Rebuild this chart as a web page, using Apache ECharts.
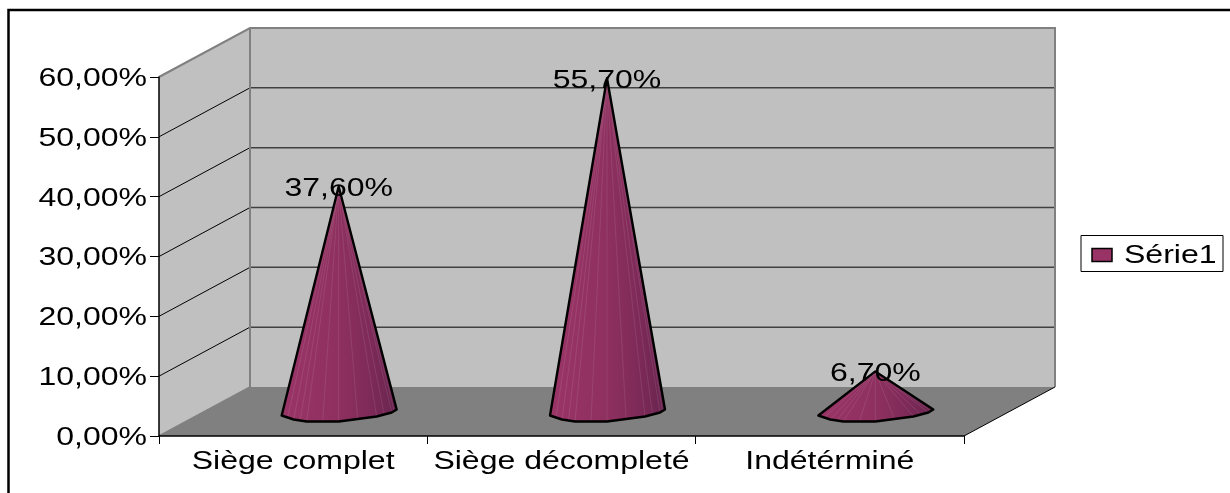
<!DOCTYPE html>
<html>
<head>
<meta charset="utf-8">
<style>
html, body { margin: 0; padding: 0; background: #fff; }
#chart { width: 1230px; height: 493px; }
</style>
<script src="https://cdn.jsdelivr.net/npm/echarts@6/dist/echarts.min.js"></script>
</head>
<body>
<div id="chart"></div>
<script>
// data
var categories = ['Siège complet', 'Siège décompleté', 'Indétérminé'];
var serie1 = [0.376, 0.557, 0.067];
var valueLabels = ['37,60%', '55,70%', '6,70%'];
var yTicks = [0, 0.1, 0.2, 0.3, 0.4, 0.5, 0.6];
var yTickLabels = ['0,00%', '10,00%', '20,00%', '30,00%', '40,00%', '50,00%', '60,00%'];
var seriesName = 'Série1';

// the fake 3d box: how far the back wall is pushed from the front axes
var depthX = 91;
var depthY = -49;
// outline of the cone foot, relative to the foot centre
var rim = [[-57, 4], [-45, 8], [-32, 10], [0, 10], [38, 5], [53, 1], [58, -2]];

var textFont = '25px "Liberation Sans"';
var stretch = 1.28; // text in the original is stretched sideways

function stretchedText(x, y, text, align) {
  return {
    type: 'text',
    x: x,
    y: y,
    scaleX: stretch,
    z2: 50,
    style: {
      text: text,
      font: textFont,
      fill: '#000',
      textAlign: align,
      textVerticalAlign: 'middle'
    }
  };
}

function renderWalls(params, api) {
  var cs = params.coordSys;
  var l = cs.x, r = cs.x + cs.width, t = cs.y, b = cs.y + cs.height;
  var grey = '#808080';
  var kids = [
    { type: 'polygon', shape: { points: [[l, t], [l + depthX, t + depthY], [l + depthX, b + depthY], [l, b]] }, style: { fill: '#c0c0c0' } },
    { type: 'rect', shape: { x: l + depthX, y: t + depthY, width: r - l, height: b - t }, style: { fill: '#c0c0c0' } },
    { type: 'polygon', shape: { points: [[l, b], [l + depthX, b + depthY], [r + depthX, b + depthY], [r, b]] }, style: { fill: '#808080' } }
  ];
  yTicks.forEach(function (v, i) {
    if (i === 0 || i === yTicks.length - 1) return;
    var y = api.coord([0, v])[1];
    kids.push({ type: 'line', shape: { x1: l, y1: y, x2: l + depthX, y2: y + depthY }, style: { stroke: '#000', lineWidth: 1 } });
    kids.push({ type: 'line', shape: { x1: l + depthX, y1: y + depthY, x2: r + depthX, y2: y + depthY }, style: { stroke: '#404040', lineWidth: 1.5 } });
  });
  kids.push({ type: 'polyline', shape: { points: [[l, t], [l + depthX, t + depthY], [r + depthX, t + depthY], [r + depthX, b + depthY]] }, style: { stroke: grey, lineWidth: 2, fill: null } });
  kids.push({ type: 'line', shape: { x1: l + depthX, y1: t + depthY, x2: l + depthX, y2: b + depthY }, style: { stroke: grey, lineWidth: 2 } });
  kids.push({ type: 'line', shape: { x1: l, y1: b, x2: l + depthX, y2: b + depthY }, style: { stroke: grey, lineWidth: 1.5 } });
  kids.push({ type: 'line', shape: { x1: r, y1: b, x2: r + depthX, y2: b + depthY }, style: { stroke: '#000', lineWidth: 1 } });
  return { type: 'group', children: kids };
}

function renderCone(params, api) {
  var idx = api.value(0);
  var val = api.value(1);
  var top = api.coord([idx, val]);
  var foot = api.coord([idx, 0]);
  var ax = top[0] + depthX / 2, ay = top[1] + depthY / 2;
  var cx = foot[0] + depthX / 2, cy = foot[1] + depthY / 2;
  var pts = rim.map(function (p) { return [cx + p[0], cy + p[1]]; });
  var kids = [];
  var i, n;
  // body, shaded darker to the right
  kids.push({
    type: 'polygon',
    shape: { points: [[ax, ay]].concat(pts) },
    style: {
      fill: new echarts.graphic.LinearGradient(0, 0, 1, 0, [
        { offset: 0, color: '#9a3567' },
        { offset: 0.5, color: '#8e305f' },
        { offset: 0.78, color: '#7d2a58' },
        { offset: 1, color: '#69244f' }
      ])
    }
  });
  // thin light seams between the flat shaded strips
  for (i = 0; i < pts.length - 1; i++) {
    for (n = 0; n < 2; n++) {
      var f = n / 2;
      kids.push({
        type: 'line',
        shape: {
          x1: ax, y1: ay,
          x2: pts[i][0] + (pts[i + 1][0] - pts[i][0]) * f,
          y2: pts[i][1] + (pts[i + 1][1] - pts[i][1]) * f
        },
        style: { stroke: 'rgba(255,255,255,0.13)', lineWidth: 0.7 }
      });
    }
  }
  // black outline
  kids.push({
    type: 'polygon',
    shape: { points: [[ax, ay]].concat(pts) },
    style: { fill: null, stroke: '#000', lineWidth: 2.4, lineJoin: 'round' }
  });
  kids.push(stretchedText(ax, ay + 3, valueLabels[params.dataIndex], 'center'));
  return { type: 'group', children: kids };
}

function renderYLabel(params, api) {
  var p = api.coord([0, api.value(1)]);
  return stretchedText(params.coordSys.x - 12, p[1] + 2, yTickLabels[params.dataIndex], 'right');
}

function renderXLabel(params, api) {
  var p = api.coord([api.value(0), 0]);
  return stretchedText(p[0], p[1] + 26, categories[params.dataIndex], 'center');
}

var myChart = echarts.init(document.getElementById('chart'));

var option = {
  animation: false,
  backgroundColor: '#fff',
  grid: { left: 159, top: 77, width: 805, height: 359, containLabel: false },
  xAxis: {
    type: 'category',
    data: categories,
    z: 5,
    axisLine: { lineStyle: { color: '#000', width: 1.5 } },
    axisTick: { show: true, length: 8, lineStyle: { color: '#000' } },
    axisLabel: { show: false }
  },
  yAxis: {
    type: 'value',
    min: 0,
    max: 0.6,
    interval: 0.1,
    z: 5,
    axisLine: { show: true, lineStyle: { color: '#000', width: 1.5 } },
    axisTick: { show: true, length: 9, lineStyle: { color: '#000' } },
    axisLabel: { show: false },
    splitLine: { show: false }
  },
  graphic: [
    // only the top and left of the outer frame are on the picture
    { type: 'polyline', shape: { points: [[8.5, 493], [8.5, 10], [1230, 10]] }, style: { fill: null, stroke: '#000', lineWidth: 2.5 }, z: 1 },
    {
      type: 'group', z: 10, children: [
        { type: 'rect', shape: { x: 1081, y: 235.5, width: 142, height: 36 }, style: { fill: '#fff', stroke: '#000', lineWidth: 1 } },
        { type: 'rect', shape: { x: 1092, y: 248.5, width: 20, height: 13 }, style: { fill: '#993366', stroke: '#000', lineWidth: 1.5 } },
        { type: 'text', x: 1124, y: 256, scaleX: stretch, style: { text: seriesName, font: textFont, fill: '#000', textAlign: 'left', textVerticalAlign: 'middle' } }
      ]
    }
  ],
  series: [
    { type: 'custom', name: 'walls', renderItem: renderWalls, data: [[0, 0]], silent: true, z: 1 },
    { type: 'custom', name: seriesName, renderItem: renderCone, z: 6, data: serie1.map(function (v, i) { return [i, v]; }) },
    { type: 'custom', name: 'yLabels', renderItem: renderYLabel, z: 7, silent: true, data: yTicks.map(function (v) { return [0, v]; }) },
    { type: 'custom', name: 'xLabels', renderItem: renderXLabel, z: 7, silent: true, data: categories.map(function (c, i) { return [i, 0]; }) }
  ]
};

option && myChart.setOption(option);
</script>
</body>
</html>
